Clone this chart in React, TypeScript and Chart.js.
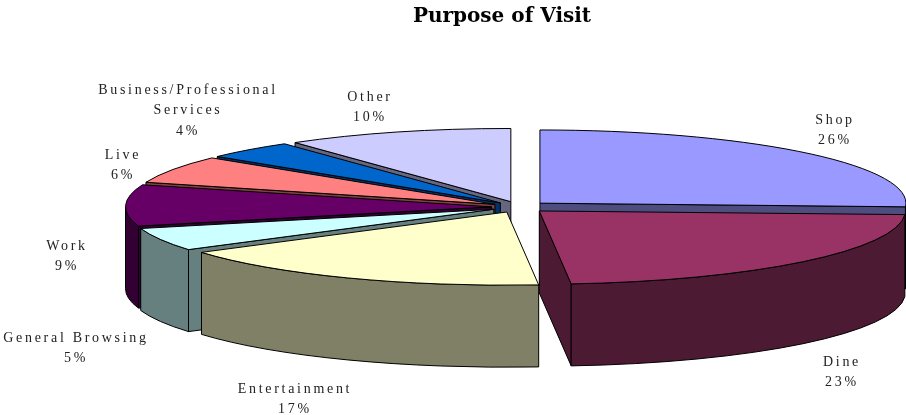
import React, { useEffect, useRef } from "react";
import { Chart, registerables } from "chart.js";

Chart.register(...registerables);

const titleText = "Purpose of Visit";
const categories = ["Shop", "Dine", "Entertainment", "General Browsing", "Work", "Live", "Business/Professional Services", "Other"];
const shares = [26, 23, 17, 5, 9, 6, 4, 10];
const topColors = ["#9999ff", "#993366", "#ffffcc", "#ccffff", "#660066", "#ff8080", "#0066cc", "#ccccff"];
const sideColors = ["#4d4d80", "#4d1a33", "#808066", "#668080", "#330033", "#804040", "#003366", "#666680"];

// layout of the tilted pie, not data
const PIE_CX = 519.5;
const PIE_CY = 207;
const RADIUS = 366;
const TILT = 0.2;
const EXPLODE = 28;
const DEPTH = 82;
const NEAR_TWIST = (1.4 * Math.PI) / 180;
const labelCenters: [number, number][] = [
  [835, 120], [842, 362], [295, 389], [76, 338], [67, 246], [123, 155], [188, 90], [370, 97],
];

function wrapLabel(s: string): string[] {
  return s.length > 20 ? s.split(" ") : [s];
}

// the projected angle slips a little toward the front of the pie (perspective of the tilt)
function warp(a: number): number {
  return a - (NEAR_TWIST * (1 + Math.sin(a))) / 2;
}

const tiltedPie = {
  id: "tiltedPie",
  beforeDatasetsDraw(chart: any) {
    const ctx: CanvasRenderingContext2D = chart.ctx;
    const arcs = chart.getDatasetMeta(0).data as any[];
    const rx = RADIUS;
    const ry = RADIUS * TILT;
    const slices = arcs.map((arc, i) => {
      const mid = (arc.startAngle + arc.endAngle) / 2;
      return {
        i,
        mid,
        a0: warp(arc.startAngle),
        a1: warp(arc.endAngle),
        fill: arc.options.backgroundColor,
        side: sideColors[i],
        cx: PIE_CX + Math.cos(mid) * EXPLODE,
        cy: PIE_CY + Math.sin(mid) * EXPLODE * TILT,
      };
    });
    // back to front
    const order = [...slices].sort((p, q) => Math.sin(p.mid) - Math.sin(q.mid));
    ctx.save();
    ctx.lineWidth = 1;
    ctx.lineJoin = "round";
    ctx.strokeStyle = "#000";
    const face = (s: any, ang: number) => {
      const tx = s.cx + Math.cos(ang) * rx;
      const ty = s.cy + Math.sin(ang) * ry;
      ctx.beginPath();
      ctx.moveTo(s.cx, s.cy);
      ctx.lineTo(tx, ty);
      ctx.lineTo(tx, ty + DEPTH);
      ctx.lineTo(s.cx, s.cy + DEPTH);
      ctx.closePath();
      ctx.fillStyle = s.side;
      ctx.fill();
      ctx.stroke();
    };
    for (const s of order) {
      // cut faces that look toward the viewer
      if (Math.cos(s.a0) < -0.001) face(s, s.a0);
      if (Math.cos(s.a1) > 0.001) face(s, s.a1);
      // outer wall: the part on the near half of the rim
      const w0 = Math.max(s.a0, 0);
      const w1 = Math.min(s.a1, Math.PI);
      if (w1 > w0) {
        ctx.beginPath();
        ctx.ellipse(s.cx, s.cy, rx, ry, 0, w0, w1);
        ctx.ellipse(s.cx, s.cy + DEPTH, rx, ry, 0, w1, w0, true);
        ctx.closePath();
        ctx.fillStyle = s.side;
        ctx.fill();
        ctx.stroke();
      }
      // top face
      ctx.beginPath();
      ctx.moveTo(s.cx, s.cy);
      ctx.ellipse(s.cx, s.cy, rx, ry, 0, s.a0, s.a1);
      ctx.closePath();
      ctx.fillStyle = s.fill;
      ctx.fill();
      ctx.stroke();
    }
    ctx.restore();
    return false;
  },
  afterDraw(chart: any) {
    const ctx: any = chart.ctx;
    ctx.save();
    ctx.font = "14px 'Liberation Serif'";
    ctx.letterSpacing = "2.7px";
    ctx.fillStyle = "#222";
    ctx.textAlign = "center";
    ctx.textBaseline = "middle";
    categories.forEach((name, i) => {
      const lines = [...wrapLabel(name), `${shares[i]}%`];
      const [x, y] = labelCenters[i];
      lines.forEach((ln, k) => ctx.fillText(ln, x, y + k * 20.5));
    });
    ctx.restore();
  },
};

export default function App() {
  const ref = useRef<HTMLCanvasElement>(null);
  useEffect(() => {
    document.body.style.margin = "0";
    document.body.style.background = "#fff";
    const chart = new Chart(ref.current as HTMLCanvasElement, {
      type: "pie",
      data: {
        labels: categories,
        datasets: [{ data: shares, backgroundColor: topColors, borderWidth: 0 }],
      },
      options: {
        responsive: false,
        animation: false,
        rotation: 0,
        radius: RADIUS,
        layout: { padding: { left: 98, right: 0, top: 0, bottom: 0 } },
        plugins: {
          legend: { display: false },
          tooltip: { enabled: false },
          title: {
            display: true,
            text: titleText,
            color: "#000",
            fullSize: false,
            font: { family: "'DejaVu Serif'", weight: "bold", size: 20 },
            padding: { top: 5, bottom: 6 },
          },
        },
      },
      plugins: [tiltedPie],
    } as any);
    return () => chart.destroy();
  }, []);
  return <canvas ref={ref} width={906} height={415} style={{ display: "block", width: 906, height: 415 }} />;
}
